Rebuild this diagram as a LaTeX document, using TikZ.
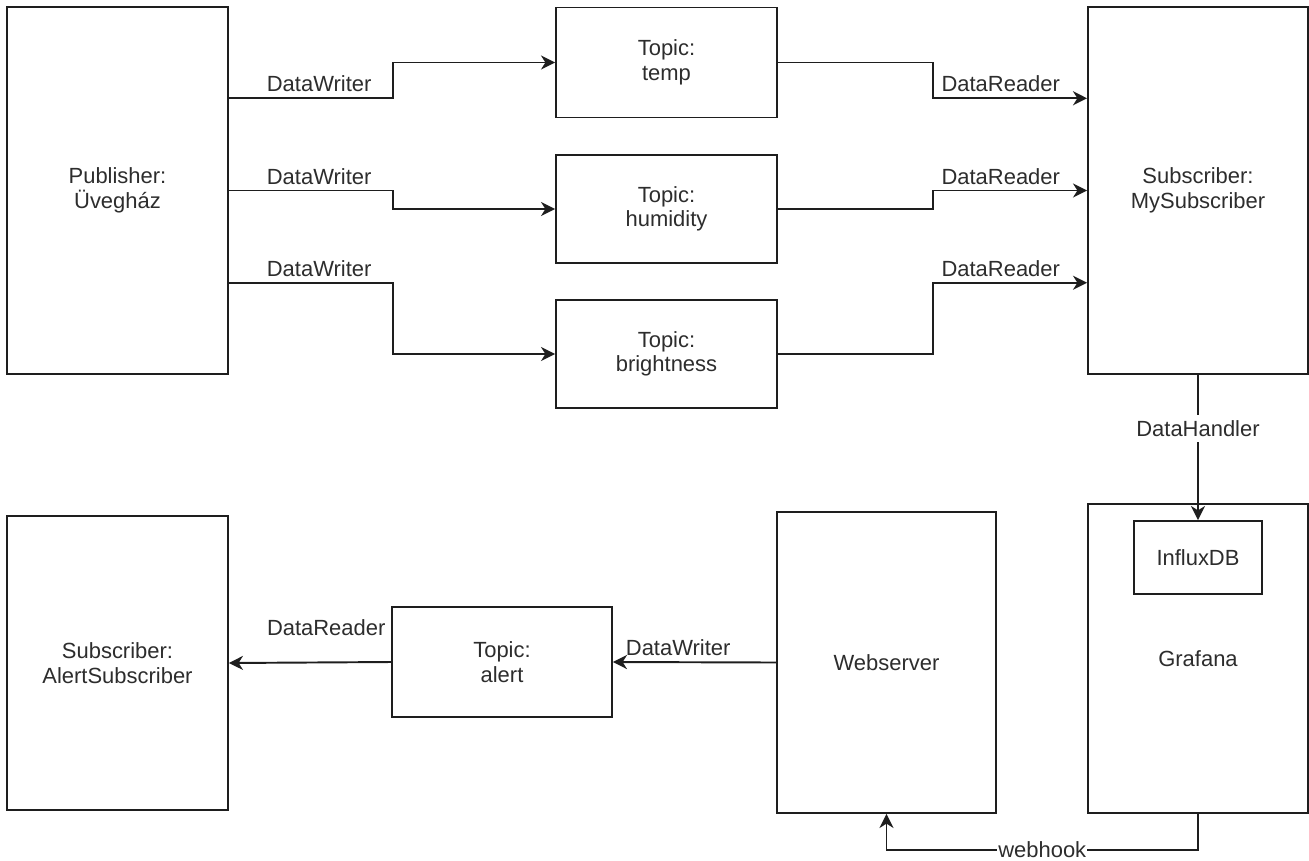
\documentclass[tikz,border=0pt]{standalone}
\usepackage{fontspec}
\setmainfont{Liberation Sans}
\usepackage{tikz}
\usetikzlibrary{arrows.meta, positioning, calc}
\definecolor{LineGray}{RGB}{30, 30, 30}
\definecolor{TextGray}{RGB}{45, 45, 45}

\begin{document}
\begin{tikzpicture}[
    x=0.02cm, y=-0.02cm,
    box/.style={
      rectangle, draw=LineGray, line width=1.1pt, fill=white,
      inner sep=2pt, align=center, text=TextGray,
      font=\fontsize{12.5}{14}\selectfont
    },
    lbl/.style={
      text=TextGray, inner sep=3pt,
      font=\fontsize{12.5}{14}\selectfont
    },
    arr/.style={-{Stealth[length=8pt, width=8pt, inset=2.5pt]}, line width=1.1pt, color=LineGray}
  ]
    \useasboundingbox (0,0) rectangle (1309,860);

    \node[box, minimum width=4.42cm, minimum height=7.34cm] (pub)    at (117.5,190.5) {Publisher:\\Üvegház};
    \node[box, minimum width=4.42cm, minimum height=2.2cm]  (temp)   at (666.5,62.5)  {Topic:\\temp};
    \node[box, minimum width=4.42cm, minimum height=2.16cm] (hum)    at (666.5,209)   {Topic:\\humidity};
    \node[box, minimum width=4.42cm, minimum height=2.16cm] (bright) at (666.5,354)   {Topic:\\brightness};
    \node[box, minimum width=4.4cm,  minimum height=7.34cm] (sub)    at (1198,190.5)  {Subscriber:\\MySubscriber};

    \node[box, minimum width=4.4cm,  minimum height=6.18cm] (graf)   at (1198,658.5)  {Grafana};
    \node[box, minimum width=2.56cm, minimum height=1.46cm] (influx) at (1198,557.5)  {InfluxDB};
    \node[box, minimum width=4.38cm, minimum height=6.02cm] (web)    at (886.5,662.5) {Webserver};
    \node[box, minimum width=4.4cm,  minimum height=2.2cm]  (alert)  at (502,662)     {Topic:\\alert};
    \node[box, minimum width=4.42cm, minimum height=5.88cm] (asub)   at (117.5,663)   {Subscriber:\\AlertSubscriber};

    \draw[arr] ($(pub.north east)!0.25!(pub.south east)$) -- node[lbl, above, pos=0.55]{DataWriter} ++(164,0) |- (temp.west);
    \draw[arr] (pub.east) -- node[lbl, above, pos=0.55]{DataWriter} ++(164,0) |- (hum.west);
    \draw[arr] ($(pub.north east)!0.75!(pub.south east)$) -- node[lbl, above, pos=0.55]{DataWriter} ++(164,0) |- (bright.west);

    \draw[arr] (temp.east) -- ++(155,0) |- ($(sub.north west)!0.25!(sub.south west)$) node[lbl, above, pos=0.72]{DataReader};
    \draw[arr] (hum.east) -- ++(155,0) |- (sub.west) node[lbl, above, pos=0.72]{DataReader};
    \draw[arr] (bright.east) -- ++(155,0) |- ($(sub.north west)!0.75!(sub.south west)$) node[lbl, above, pos=0.72]{DataReader};

    \draw[arr] (sub.south) -- node[lbl, fill=white, pos=0.37]{DataHandler} (influx.north);
    \draw[arr] (web.west) -- node[lbl, above, pos=0.6]{DataWriter} (alert.east);
    \draw[arr] (alert.west) -- node[lbl, above=0.4cm, pos=0.4]{DataReader} (asub.east);
    \draw[arr] (graf.south) -- ++(0,36) -| node[lbl, fill=white, inner sep=0.5pt, pos=0.25]{webhook} (web.south);
  \end{tikzpicture}
\end{document}
